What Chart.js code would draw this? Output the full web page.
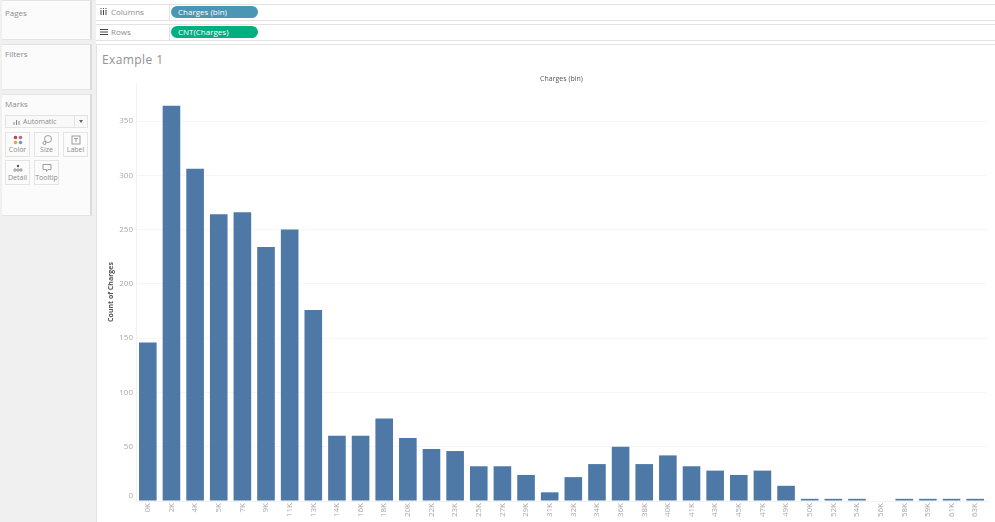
<!DOCTYPE html>
<html>
<head>
<meta charset="utf-8">
<title>Example 1</title>
<script src="https://cdn.jsdelivr.net/npm/chart.js@4/dist/chart.umd.min.js"></script>
<style>
  html, body { margin: 0; padding: 0; background: #fff; }
  body { width: 995px; height: 522px; overflow: hidden; position: relative; font-family: "Open Sans", sans-serif; color: #8c8c8c; }
  .box { position: absolute; background: #fff; box-sizing: border-box; }
  .side { background: #f0f0f0; position: absolute; left: 0; top: 0; width: 96px; height: 522px; }
  .panel { left: 2px; width: 90px; border-right: 2px solid #dcdcdc; border-top: 1px solid #e4e4e4; border-bottom: 1px solid #e4e4e4; background: #fbfbfb; }
  .panel > span { position: absolute; left: 3px; top: 3px; font-size: 8px; line-height: 11px; }
  .shelf { left: 96px; width: 899px; height: 17px; border-top: 1px solid #e2e2e2; border-bottom: 1px solid #e2e2e2; }
  .shelf .name { position: absolute; left: 15px; top: 1px; font-size: 8px; line-height: 12px; color: #8c8c8c; }
  .shelf svg { position: absolute; left: 4px; top: 3px; }
  .shelf .sep { position: absolute; left: 73px; top: 0; bottom: 0; width: 1px; background: #e2e2e2; }
  .pill { position: absolute; left: 75px; top: 1px; width: 87px; height: 12px; border-radius: 6px; color: #fff; font-size: 8px; line-height: 12px; text-indent: 7px; }
  .mbtn { position: absolute; width: 25px; height: 25px; border: 1px solid #e4e4e4; box-sizing: border-box; background: #fbfbfb; font-size: 7px; text-align: center; color: #8c8c8c; }
  .mbtn svg { display: block; margin: 2px auto 0; }
  .mbtn b { font-weight: normal; position: absolute; left: 0; right: 0; bottom: 1px; line-height: 10px; }
  .dropdown { position: absolute; left: 3px; top: 20px; width: 83px; height: 13px; border: 1px solid #e4e4e4; box-sizing: border-box; background: #f9f9f9; font-size: 7px; line-height: 11px; text-indent: 17px; }
  .dropdown svg { position: absolute; left: 7px; top: 3px; }
  .dropdown i { position: absolute; right: 0; top: 0; bottom: 0; width: 12px; border-left: 1px solid #e4e4e4; }
  .dropdown i::after { content: ""; position: absolute; left: 4px; top: 4px; border: 2px solid transparent; border-top: 3px solid #666; }
  .main { left: 96px; top: 44px; width: 899px; height: 478px; border-left: 1px solid #e2e2e2; border-top: 1px solid #e2e2e2; }
  h1 { position: absolute; left: 102px; top: 52px; margin: 0; font-size: 12px; line-height: 15px; font-weight: normal; color: #929292; letter-spacing: .4px; }
  canvas { position: absolute; left: 96px; top: 44px; }
</style>
</head>
<body>
<div class="side"></div>
<div class="box panel" style="top:0;height:40px"><span style="top:6px">Pages</span></div>
<div class="box panel" style="top:44px;height:46px"><span>Filters</span></div>
<div class="box panel" style="top:94px;height:122px">
  <span>Marks</span>
  <div class="dropdown"><svg width="7" height="6"><path d="M1 6V3M3.5 6V1M6 6V2" stroke="#888" stroke-width="1"/></svg>Automatic<i></i></div>
  <div class="mbtn" style="left:3px;top:37px">
    <svg width="10" height="10"><circle cx="2.5" cy="2.5" r="1.8" fill="#b5475d"/><circle cx="7.5" cy="2.5" r="1.8" fill="#c9657a"/><circle cx="2.5" cy="7.5" r="1.8" fill="#e8a33d"/><circle cx="7.5" cy="7.5" r="1.8" fill="#6b9ac4"/></svg><b>Color</b>
  </div>
  <div class="mbtn" style="left:32px;top:37px">
    <svg width="10" height="10"><circle cx="6" cy="4" r="3.5" fill="none" stroke="#777" stroke-width=".7"/><circle cx="2.5" cy="8" r="1.5" fill="none" stroke="#777" stroke-width=".7"/></svg><b>Size</b>
  </div>
  <div class="mbtn" style="left:61px;top:37px">
    <svg width="10" height="10"><rect x="1" y="1" width="8" height="8" fill="none" stroke="#777" stroke-width=".7"/><path d="M3 3.5H7M5 3.5V7" stroke="#777" stroke-width=".7"/></svg><b>Label</b>
  </div>
  <div class="mbtn" style="left:3px;top:65px">
    <svg width="10" height="10"><circle cx="5" cy="3" r="1.2" fill="#555"/><circle cx="2" cy="7" r="1.2" fill="none" stroke="#555" stroke-width=".6"/><circle cx="5" cy="7" r="1.2" fill="none" stroke="#555" stroke-width=".6"/><circle cx="8" cy="7" r="1.2" fill="none" stroke="#555" stroke-width=".6"/></svg><b>Detail</b>
  </div>
  <div class="mbtn" style="left:32px;top:65px">
    <svg width="10" height="10"><path d="M1 1.5H9V6.5H6L4.5 8.5V6.5H1Z" fill="none" stroke="#777" stroke-width=".7"/></svg><b>Tooltip</b>
  </div>
</div>
<div class="box shelf" style="top:4px">
  <svg width="8" height="8"><path d="M1 2V7M3.5 2V7M6 2V7M1 0V1M3.5 0V1M6 0V1" stroke="#444" stroke-width="1"/></svg><span class="name">Columns</span><div class="sep"></div>
  <div class="pill" style="background:#4a96b4">Charges (bin)</div>
</div>
<div class="box shelf" style="top:24px">
  <svg width="8" height="8"><path d="M0 1.5H8M0 4H8M0 6.5H8" stroke="#444" stroke-width="1"/></svg><span class="name">Rows</span><div class="sep"></div>
  <div class="pill" style="background:#00b07f">CNT(Charges)</div>
</div>
<div class="box main"></div>
<h1>Example 1</h1>
<canvas id="histogram" width="899" height="478"></canvas>
<script>
// Bins and counts
const binLabels = ['0K', '2K', '4K', '5K', '7K', '9K', '11K', '13K', '14K', '16K', '18K', '20K',
    '22K', '23K', '25K', '27K', '29K', '31K', '32K', '34K', '36K', '38K', '40K', '41K',
    '43K', '45K', '47K', '49K', '50K', '52K', '54K', '56K', '58K', '59K', '61K', '63K'];
const chargeCounts = [146, 364, 306, 264, 266, 234, 250, 176, 60, 60, 76, 58,
    48, 46, 32, 32, 24, 8, 22, 34, 50, 34, 42, 32,
    28, 24, 28, 14, 2, 2, 2, 0, 2, 2, 2, 2];
const yTicks = [0, 50, 100, 150, 200, 250, 300, 350];

const fontFamily = '"Open Sans", sans-serif';

new Chart(document.getElementById('histogram'), {
    type: 'bar',
    data: {
        labels: binLabels,
        datasets: [{
            label: 'Count of Charges',
            data: chargeCounts,
            backgroundColor: '#4e79a7',
            barPercentage: 0.745,
            categoryPercentage: 1
        }]
    },
    options: {
        responsive: false,
        animation: false,
        layout: { padding: { left: 0, right: 8, top: 0, bottom: 0 } },
        plugins: { legend: { display: false }, tooltip: { enabled: false } },
        scales: {
            x: {
                ticks: {
                    minRotation: 90, maxRotation: 90, autoSkip: false, padding: 2,
                    color: '#a8a8a8', font: { family: fontFamily, size: 8 }
                },
                grid: { display: false, drawTicks: false },
                border: { color: '#f2f2f2' },
                afterFit: scale => { scale.height = 21; }
            },
            // empty top axis, only there to carry the bin title
            xTop: {
                position: 'top',
                type: 'category',
                labels: binLabels,
                ticks: { display: false },
                grid: { display: false },
                border: { display: false },
                title: {
                    display: true, text: 'Charges (bin)', color: '#555',
                    font: { family: fontFamily, size: 7 }, padding: { top: 31, bottom: 0 }
                },
                afterFit: scale => { scale.height = 39; }
            },
            y: {
                min: 0,
                max: 385,
                afterBuildTicks: scale => { scale.ticks = yTicks.map(v => ({ value: v })); },
                ticks: {
                    padding: 3, color: '#a8a8a8',
                    font: { family: fontFamily, size: 8 },
                    // the zero label sits a little above the baseline
                    callback: value => (value === 0 ? ['0', ''] : String(value))
                },
                grid: { color: '#f6f6f6', drawTicks: false },
                border: { color: '#f2f2f2' },
                title: {
                    display: true, text: 'Count of Charges', color: '#555',
                    font: { family: fontFamily, size: 7, weight: 'bold' }, padding: { top: 11, bottom: 0 }
                },
                afterFit: scale => { scale.width = 40; }
            }
        }
    }
});
</script>
</body>
</html>
